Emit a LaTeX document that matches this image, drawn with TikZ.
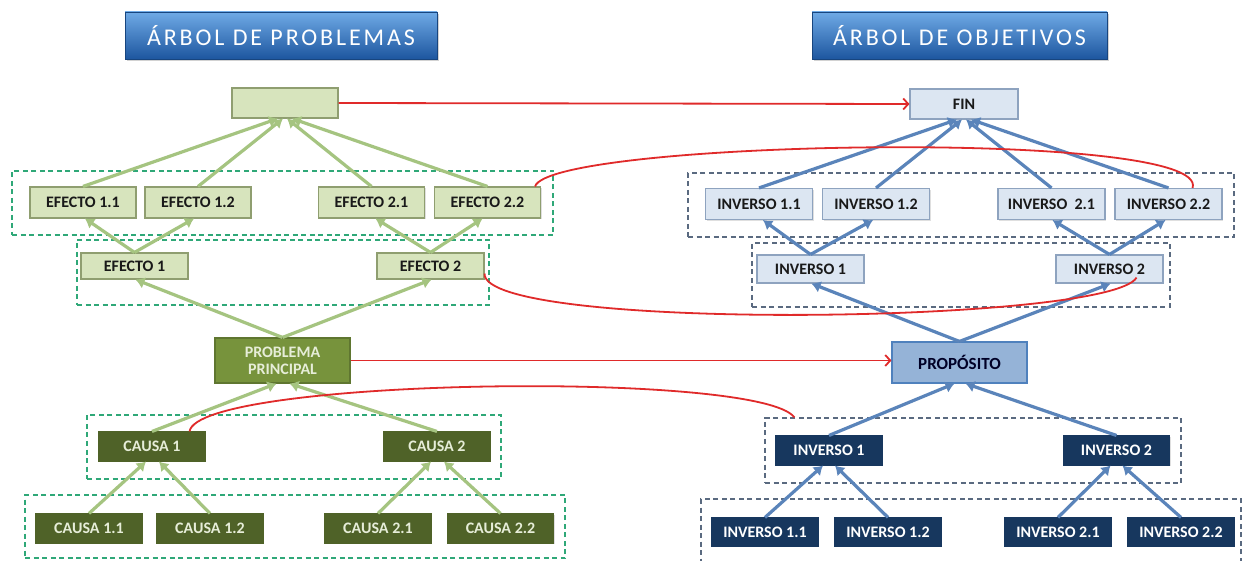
\documentclass[tikz,border=0pt]{standalone}
\usepackage{fontspec}
\setmainfont{Carlito}
\usetikzlibrary{arrows.meta,shadows}

\definecolor{lgfill}{HTML}{D7E4BD}
\definecolor{lgdraw}{HTML}{8F9E70}
\definecolor{dgfill}{HTML}{77933C}
\definecolor{cgfill}{HTML}{4F6228}
\definecolor{cgtext}{HTML}{E6EDD8}
\definecolor{lbfill}{HTML}{DCE6F2}
\definecolor{lbdraw}{HTML}{8EA3BF}
\definecolor{mbfill}{HTML}{95B3D7}
\definecolor{mbdraw}{HTML}{4F81BD}
\definecolor{dbfill}{HTML}{17375E}
\definecolor{garrow}{HTML}{A5C480}
\definecolor{barrow}{HTML}{5A84BA}
\definecolor{linkred}{HTML}{E02A2A}
\definecolor{gdash}{HTML}{2FA878}
\definecolor{bdash}{HTML}{5A6A80}
\definecolor{titletop}{HTML}{6FAAE6}
\definecolor{titlebot}{HTML}{1D569F}

\tikzset{
  boxfont/.style={font=\bfseries\fontsize{16}{17}\selectfont},
  base/.style={rectangle, inner sep=0pt, align=center, line width=1.1pt,
    drop shadow={opacity=0.25, shadow xshift=1.2pt, shadow yshift=-1.2pt}},
  lgbox/.style={base, boxfont, draw=lgdraw, fill=lgfill, text=black!90},
  dgbox/.style={base, boxfont, draw=dgfill!80!black, fill=dgfill, text=cgtext},
  cgbox/.style={base, boxfont, draw=cgfill, fill=cgfill, text=cgtext},
  lbbox/.style={base, boxfont, draw=lbdraw, fill=lbfill, text=black!90},
  mbbox/.style={base, font=\bfseries\fontsize{17}{18}\selectfont, draw=mbdraw, fill=mbfill, text=black!85!blue},
  dbbox/.style={base, boxfont, draw=dbfill, fill=dbfill, text=white},
  titlebox/.style={rectangle, inner sep=0pt, draw=titlebot!80!black, line width=0.6pt,
    top color=titletop, bottom color=titlebot, text=white,
    font=\fontsize{24}{26}\selectfont\addfontfeatures{LetterSpace=12},
    drop shadow={opacity=0.35, shadow xshift=1.5pt, shadow yshift=-2pt}},
  gframe/.style={rectangle, draw=gdash, line width=1.2pt, dash pattern=on 5pt off 3.5pt, inner sep=0pt},
  bframe/.style={rectangle, draw=bdash, line width=1.2pt, dash pattern=on 5pt off 3.5pt, inner sep=0pt},
  garr/.style={draw=garrow, line width=3.2pt, -{Latex[length=9pt,width=12pt]}},
  barr/.style={draw=barrow, line width=3.2pt, -{Latex[length=9pt,width=12pt]}},
  link/.style={draw=linkred, line width=1.8pt},
  linkarr/.style={link, -{Straight Barb[length=5pt,width=11pt,line width=1.8pt]}},
  sz/.style 2 args={minimum width=#1pt, minimum height=#2pt}
}

\begin{document}
\begin{tikzpicture}[x=1pt, y=-1pt]
\useasboundingbox[fill=white] (0,0) rectangle (1243,561);

% ---------- dashed frames ----------
\node[gframe, sz={541}{64}] (d1) at (282.5,203) {};
\node[gframe, sz={412}{65}] (d2) at (283,272.5) {};
\node[gframe, sz={414}{64}] (d3) at (294,447) {};
\node[gframe, sz={540}{63}] (d4) at (295,526.5) {};
\node[bframe, sz={546}{64}] (r1) at (961,205) {};
\node[bframe, sz={418}{64}] (r2) at (961,275) {};
\node[bframe, sz={416}{65}] (r3) at (973,450.5) {};
\node[bframe, sz={540}{76}] (r4) at (971,537) {};

% ---------- titles ----------
\node[titlebox, sz={312}{47}] (tl) at (281,35.5) {ÁRBOL DE PROBLEMAS};
\node[titlebox, sz={295}{47}] (tr) at (959.5,35.5) {ÁRBOL DE OBJETIVOS};

% ---------- problem tree ----------
\node[lgbox, sz={106}{30}] (top) at (285,103) {};
\node[lgbox, sz={106}{31}] (e11) at (83,202.5) {EFECTO 1.1};
\node[lgbox, sz={106}{31}] (e12) at (198,202.5) {EFECTO 1.2};
\node[lgbox, sz={106}{31}] (e21) at (371.5,202.5) {EFECTO 2.1};
\node[lgbox, sz={106}{31}] (e22) at (487.5,202.5) {EFECTO 2.2};
\node[lgbox, sz={107}{26}] (e1) at (134.5,266) {EFECTO 1};
\node[lgbox, sz={107}{26}] (e2) at (430.5,266) {EFECTO 2};
\node[dgbox, sz={135}{45}] (pp) at (282.5,360.5) {PROBLEMA\\PRINCIPAL};
\node[cgbox, sz={106}{29}] (c1) at (152,446.5) {CAUSA 1};
\node[cgbox, sz={106}{29}] (c2) at (437,446.5) {CAUSA 2};
\node[cgbox, sz={106}{29}] (c11) at (89,528.5) {CAUSA 1.1};
\node[cgbox, sz={106}{29}] (c12) at (210,528.5) {CAUSA 1.2};
\node[cgbox, sz={106}{29}] (c21) at (378,528.5) {CAUSA 2.1};
\node[cgbox, sz={106}{29}] (c22) at (500.5,528.5) {CAUSA 2.2};

% ---------- objective tree ----------
\node[lbbox, sz={108}{30}] (fin) at (964,104) {FIN};
\node[lbbox, sz={107}{31}] (i11) at (759,204) {INVERSO 1.1};
\node[lbbox, sz={107}{31}] (i12) at (876,204) {INVERSO 1.2};
\node[lbbox, sz={107}{31}] (i21) at (1051.5,204) {INVERSO\ \ 2.1};
\node[lbbox, sz={107}{31}] (i22) at (1168.5,204) {INVERSO 2.2};
\node[lbbox, sz={107}{28}] (i1) at (810.5,269) {INVERSO 1};
\node[lbbox, sz={107}{28}] (i2) at (1109.5,269) {INVERSO 2};
\node[mbbox, sz={135}{41}] (prop) at (959.5,362.5) {PROPÓSITO};
\node[dbbox, sz={106}{29}] (j1) at (829,450.5) {INVERSO 1};
\node[dbbox, sz={106}{29}] (j2) at (1116.5,450.5) {INVERSO 2};
\node[dbbox, sz={106}{28}] (j11) at (765,532) {INVERSO 1.1};
\node[dbbox, sz={106}{28}] (j12) at (888,532) {INVERSO 1.2};
\node[dbbox, sz={106}{28}] (j21) at (1058,532) {INVERSO 2.1};
\node[dbbox, sz={106}{28}] (j22) at (1181,532) {INVERSO 2.2};

% ---------- green arrows (problem tree) ----------
\draw[garr] (e11.north) -- ([xshift=-7pt]top.south);
\draw[garr] (e12.north) -- ([xshift=-2pt]top.south);
\draw[garr] (e21.north) -- ([xshift=2pt]top.south);
\draw[garr] (e22.north) -- ([xshift=7pt]top.south);
\draw[garr] (e1.north) -- ([xshift=2pt]e11.south);
\draw[garr] (e1.north) -- ([xshift=-4pt]e12.south);
\draw[garr] (e2.north) -- ([xshift=4pt]e21.south);
\draw[garr] (e2.north) -- ([xshift=-5pt]e22.south);
\draw[garr] (pp.north) -- ([xshift=1pt]e1.south);
\draw[garr] (pp.north) -- ([xshift=1pt]e2.south);
\draw[garr] (c1.north) -- ([xshift=-6pt]pp.south);
\draw[garr] (c2.north) -- ([xshift=7pt]pp.south);
\draw[garr] (c11.north) -- ([xshift=-6pt]c1.south);
\draw[garr] (c12.north) -- ([xshift=7pt]c1.south);
\draw[garr] (c21.north) -- ([xshift=-6pt]c2.south);
\draw[garr] (c22.north) -- ([xshift=7pt]c2.south);

% ---------- blue arrows (objective tree) ----------
\draw[barr] (i11.north) -- ([xshift=-7pt]fin.south);
\draw[barr] (i12.north) -- ([xshift=-2pt]fin.south);
\draw[barr] (i21.north) -- ([xshift=2pt]fin.south);
\draw[barr] (i22.north) -- ([xshift=7pt]fin.south);
\draw[barr] (i1.north) -- ([xshift=4pt]i11.south);
\draw[barr] (i1.north) -- ([xshift=-3pt]i12.south);
\draw[barr] (i2.north) -- ([xshift=1pt]i21.south);
\draw[barr] (i2.north) -- ([xshift=-3pt]i22.south);
\draw[barr] (prop.north) -- ([xshift=1pt]i1.south);
\draw[barr] (prop.north) -- ([xshift=1pt]i2.south);
\draw[barr] (j1.north) -- ([xshift=-5pt]prop.south);
\draw[barr] (j2.north) -- ([xshift=6pt]prop.south);
\draw[barr] (j11.north) -- ([xshift=-6pt]j1.south);
\draw[barr] (j12.north) -- ([xshift=6pt]j1.south);
\draw[barr] (j21.north) -- ([xshift=-6pt]j2.south);
\draw[barr] (j22.north) -- ([xshift=6pt]j2.south);

% ---------- red correspondences ----------
\draw[linkarr] (top.east) -- (fin.west);
\draw[linkarr] (pp.east) -- (pp.east -| prop.west);
\draw[link] ([xshift=-6pt]e22.north east)
  .. controls (550,140) and (1212,128) .. ([xshift=-30pt]i22.north east);
\draw[link] ([yshift=6pt]e2.south east)
  .. controls (482,332) and (1110,324) .. ([xshift=-27pt,yshift=6pt]i2.south east);
\draw[link] ([xshift=-16pt]c1.north east)
  .. controls (198,378) and (760,370) .. ([xshift=30pt]r3.north west);
\end{tikzpicture}
\end{document}
